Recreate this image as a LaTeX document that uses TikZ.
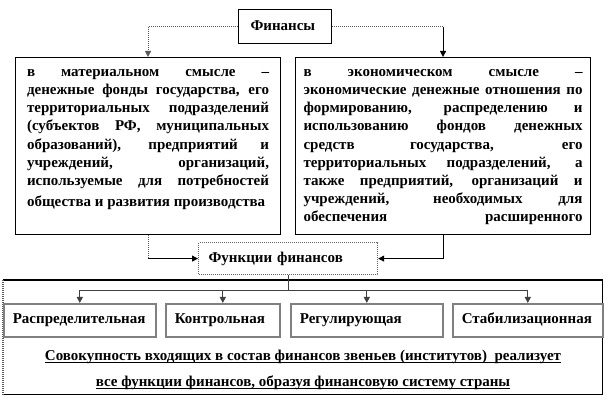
\documentclass[tikz,border=0pt]{standalone}
\usepackage{fontspec}
\setmainfont{Liberation Serif}
\usetikzlibrary{arrows.meta,calc}
\newdimen\upx \upx=0.75pt
\newcommand\myul[1]{\leavevmode\setbox0\hbox{#1}\rlap{\rule[-1.8pt]{\wd0}{0.7pt}}\box0}
\newcommand\jset{\hbadness=10000\tolerance=9999\hyphenpenalty=10000\exhyphenpenalty=10000}
\begin{document}
\begin{tikzpicture}[x=0.75pt,y=-0.75pt,
  txt/.style={font=\bfseries\fontsize{11.25pt}{13.65pt}\selectfont},
  frame/.style={draw=black,line width=0.8pt,fill=white},
  bigbox/.style={frame,txt,anchor=north west,inner ysep=6\upx},
  fnbox/.style={draw=gray,line width=1.2pt,fill=white,txt,anchor=north west,align=left,inner xsep=9\upx,inner ysep=0pt,text height=8pt,text depth=2.5pt},
  dotl/.style={draw=gray!70!black,line width=0.8pt,dash pattern=on 0.75pt off 0.75pt},
  conn/.style={draw=black,line width=0.8pt},
  bus/.style={draw=black!75,line width=0.9pt},
  tip/.style={-{Triangle[length=4.5pt,width=4.5pt]}}]
\fill[white] (0,0) rectangle (608,402);
\useasboundingbox (0,0) rectangle (608,402);

% top
\node[frame,txt,anchor=north west,align=left,inner xsep=12\upx,inner ysep=0pt,text height=8pt,text depth=2.5pt,
  text width=69\upx,minimum width=93\upx,minimum height=34\upx] (fin) at (238,9) {Финансы};

\node[bigbox,inner xsep=11.5\upx] (mat) at (15,57) {\parbox[t][165\upx][t]{242\upx}{\jset\parfillskip=0pt\strut
в материальном смысле –\linebreak
денежные фонды государства, его\linebreak
территориальных подразделений\linebreak
(субъектов РФ, муниципальных\linebreak
образований), предприятий и\linebreak
учреждений, организаций,\linebreak
используемые для потребностей\par
\parfillskip=0pt plus 1fil\vspace{2.2pt}%
общества и развития производства}};

\node[bigbox,inner xsep=8\upx] (eco) at (295,57) {\parbox[t][165\upx][t]{279\upx}{\jset\parfillskip=0pt\strut
в экономическом смысле –\linebreak
экономические денежные отношения по\linebreak
формированию, распределению и\linebreak
использованию фондов денежных\linebreak
средств государства, его\linebreak
территориальных подразделений, а\linebreak
также предприятий, организаций и\linebreak
учреждений, необходимых для\linebreak
обеспечения расширенного}};

% functions
\node[draw=gray!80!black,line width=0.9pt,dash pattern=on 0.75pt off 0.75pt,fill=white,txt,
  anchor=north west,align=left,inner xsep=10\upx,inner ysep=0pt,text height=8pt,text depth=2.5pt,
  text width=159\upx,minimum width=179\upx,minimum height=32\upx] (func) at (198,242) {Функции финансов};

% outer box
\node[anchor=north west,minimum width=599\upx,minimum height=114\upx,inner sep=0pt] (outer) at (3,280) {};
\draw[conn] (outer.north west) -- (outer.north east) -- (outer.south east) -- (outer.south west);
\draw[dotl] (outer.south west) -- (outer.north west);

\node[fnbox,text width=134\upx,minimum width=152\upx,minimum height=33\upx] (f1) at (3,303) {Распределительная};
\node[fnbox,text width=96\upx,minimum width=114\upx,minimum height=33\upx] (f2) at (165,303) {Контрольная};
\node[fnbox,text width=134\upx,minimum width=152\upx,minimum height=33\upx] (f3) at (290,303) {Регулирующая};
\node[fnbox,text width=132\upx,minimum width=150\upx,minimum height=33\upx] (f4) at (452,303) {Стабилизационная};

\node[txt,align=center,inner sep=0pt] (sum) at (303,370) {\myul{Совокупность входящих в состав финансов звеньев (институтов)\ \ реализует}\\[6pt]\myul{все функции финансов, образуя финансовую систему страны}};

% connectors
\draw[dotl,tip] (fin.west) -| (mat.north);
\coordinate (rc) at (fin.east -| eco.north);
\draw[dotl] (fin.east) -- (rc);
\draw[conn,tip] (rc) -- (eco.north);

\coordinate (lc) at (mat.south |- func.west);
\draw[dotl] (mat.south) -- (lc);
\draw[conn,tip] (lc) -- (func.west);
\draw[conn,tip] (eco.south) |- (func.east);

\coordinate (busc) at ($(func.south)+(0,15)$);
\draw[bus] (func.south) -- (busc);
\draw[bus,tip] (busc) -| (f1.north);
\draw[bus,tip] (busc) -| (f2.north);
\draw[bus,tip] (busc) -| (f3.north);
\draw[bus,tip] (busc) -| (f4.north);
\end{tikzpicture}
\end{document}
